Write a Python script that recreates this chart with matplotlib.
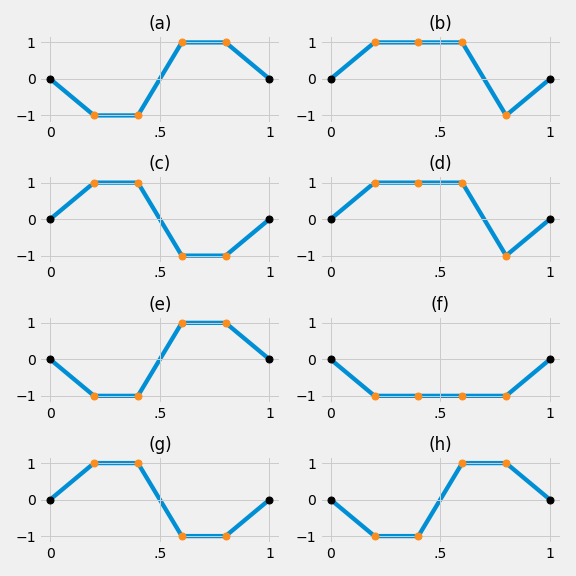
import matplotlib
matplotlib.use("Agg")
import matplotlib.pyplot as plt

plt.style.use("fivethirtyeight")

x_vals = [0, 0.2, 0.4, 0.6, 0.8, 1.0]
titles = ["(a)", "(b)", "(c)", "(d)", "(e)", "(f)", "(g)", "(h)"]
series = [
    [0, -1, -1, 1, 1, 0],
    [0, 1, 1, 1, -1, 0],
    [0, 1, 1, -1, -1, 0],
    [0, 1, 1, 1, -1, 0],
    [0, -1, -1, 1, 1, 0],
    [0, -1, -1, -1, -1, 0],
    [0, 1, 1, -1, -1, 0],
    [0, -1, -1, 1, 1, 0],
]
xtick_vals = [0, 0.5, 1]
xtick_labels = ["0", ".5", "1"]
ytick_vals = [-1, 0, 1]

fig, axes = plt.subplots(4, 2, figsize=(8, 8), dpi=72)
fig.patch.set_facecolor("#f0f0f0")
for ax, t, ys in zip(axes.flat, titles, series):
    ax.set_facecolor("#f0f0f0")
    ax.set_axisbelow("line")
    ax.plot(x_vals, ys, color="#008fd5", lw=4.3, zorder=1)
    ax.plot(x_vals[1:-1], ys[1:-1], "o", color="#fc8c1c", ms=7, zorder=3)
    ax.plot([x_vals[0], x_vals[-1]], [ys[0], ys[-1]], "o", color="black", ms=7, zorder=3)
    ax.set_xlim(-0.05, 1.05)
    ax.set_ylim(-1.2, 1.2)
    ax.set_xticks(xtick_vals)
    ax.set_xticklabels(xtick_labels)
    ax.set_yticks(ytick_vals)
    ax.tick_params(labelsize=14)
    ax.set_title(t, fontsize=16.8)
    ax.grid(True, color="#cbcbcb", lw=1)
fig.tight_layout()
fig.savefig("out.png", dpi=72, facecolor=fig.get_facecolor())
